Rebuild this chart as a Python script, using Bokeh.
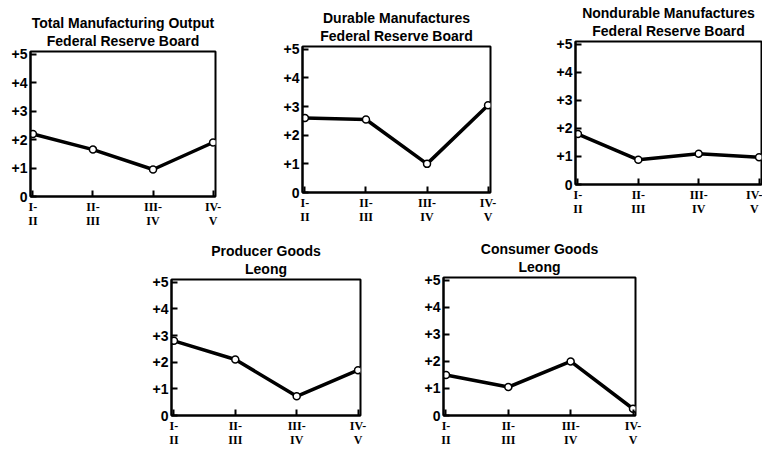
from bokeh.plotting import figure
from bokeh.models import Range1d, FixedTicker, Title, Spacer
from bokeh.layouts import row, column
from bokeh.embed import file_html
from bokeh.resources import INLINE

periods = ["I-\nII", "II-\nIII", "III-\nIV", "IV-\nV"]
y_ticks = [0, 1, 2, 3, 4, 5]
y_tick_labels = ["0", "+1", "+2", "+3", "+4", "+5"]

total_mfg = [2.2, 1.65, 0.95, 1.9]
durable = [2.6, 2.55, 1.0, 3.05]
nondurable = [1.8, 0.88, 1.1, 0.97]
producer = [2.8, 2.1, 0.72, 1.7]
consumer = [1.5, 1.05, 2.0, 0.25]

titles = [
    ("Total Manufacturing Output", "Federal Reserve Board"),
    ("Durable Manufactures", "Federal Reserve Board"),
    ("Nondurable Manufactures", "Federal Reserve Board"),
    ("Producer Goods", "Leong"),
    ("Consumer Goods", "Leong"),
]


def panel(title, values, width, height, bl, br, bt, bb):
    p = figure(width=width, height=height,
               x_range=Range1d(-0.04, 3.04), y_range=Range1d(0, 5.1),
               output_backend="svg", toolbar_location=None,
               min_border_left=bl, min_border_right=br,
               min_border_top=bt, min_border_bottom=bb)
    p.xgrid.visible = False
    p.ygrid.visible = False
    p.outline_line_color = "black"
    p.outline_line_width = 2
    p.outline_line_alpha = 1

    x = list(range(len(values)))
    p.line(x, values, line_width=3.5, color="black", line_join="round")
    p.scatter(x, values, size=7, fill_color="white", line_color="black", line_width=1.5)

    ya = p.yaxis[0]
    ya.ticker = FixedTicker(ticks=y_ticks)
    ya.major_label_overrides = {t: l for t, l in zip(y_ticks, y_tick_labels)}
    ya.minor_tick_line_color = None
    ya.major_tick_in = 6
    ya.major_tick_out = 0
    ya.major_tick_line_width = 2
    ya.axis_line_width = 2
    ya.major_label_standoff = 3
    ya.major_label_text_font = "Liberation Sans"
    ya.major_label_text_font_style = "bold"
    ya.major_label_text_font_size = "14px"
    ya.major_label_text_color = "black"

    xa = p.xaxis[0]
    xa.ticker = FixedTicker(ticks=list(range(len(periods))))
    xa.major_label_overrides = {i: l for i, l in enumerate(periods)}
    xa.minor_tick_line_color = None
    xa.major_tick_in = 6
    xa.major_tick_out = 0
    xa.major_tick_line_width = 2
    xa.axis_line_width = 2
    xa.major_label_standoff = 3
    xa.major_label_text_font = "Liberation Serif"
    xa.major_label_text_font_style = "bold"
    xa.major_label_text_font_size = "12px"
    xa.major_label_text_line_height = 1.0
    xa.major_label_text_color = "black"

    p.add_layout(Title(text=title[1], align="center", text_font="Liberation Sans",
                       text_font_style="bold", text_font_size="14px",
                       text_color="black", standoff=5), "above")
    p.add_layout(Title(text=title[0], align="center", text_font="Liberation Sans",
                       text_font_style="bold", text_font_size="14px",
                       text_color="black", standoff=-4), "above")
    return column(p)


p1 = panel(titles[0], total_mfg, 278, 240, 30, 63, 51, 44)
p2 = panel(titles[1], durable, 272, 240, 24, 60, 46, 48)
p3 = panel(titles[2], nondurable, 212, 240, 25, 1, 41, 56)
p4 = panel(titles[3], producer, 273, 209, 26, 58, 39, 27)
p5 = panel(titles[4], consumer, 227, 209, 25, 10, 34, 32)

layout = column(
    row(p1, p2, p3),
    row(Spacer(width=145, height=209), p4, p5),
)

open("out.html", "w").write(file_html(layout, INLINE))
